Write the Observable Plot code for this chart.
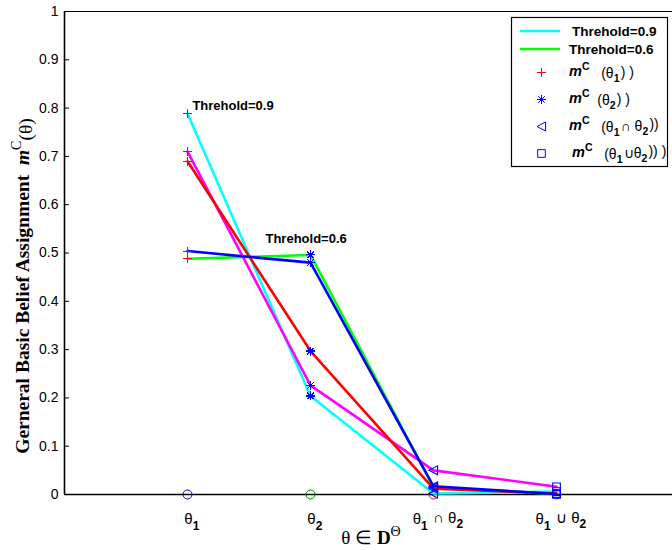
<!DOCTYPE html>
<html><head><meta charset="utf-8">
<script src="https://cdn.jsdelivr.net/npm/d3@7"></script>
<script src="https://cdn.jsdelivr.net/npm/@observablehq/plot@0.6"></script>
<style>
body{margin:0;background:#fff;}
#wrap{position:relative;width:672px;height:550px;overflow:hidden;}
</style></head><body><div id="wrap"></div>
<script>
// ---- data ----
const categories = ["θ_1", "θ_2", "θ_1 ∩ θ_2", "θ_1 ∪ θ_2"];
const catPos = [1, 2, 3, 4];
const seriesNames = ["Threhold=0.9", "Threhold=0.6", "series3", "series4", "series5"];
const cyanValues    = [0.789, 0.204, 0.002, 0.006];
const greenValues   = [0.488, 0.496, 0.015, 0.001];
const magentaValues = [0.710, 0.226, 0.050, 0.016];
const redValues     = [0.690, 0.297, 0.012, 0.002];
const blueValues    = [0.504, 0.480, 0.017, 0.001];
const seriesColors = ["#00ffff", "#00ff00", "#ff00ff", "#ff0000", "#0000ff"];
const markerColors = ["#ff0000", "#0000ff", "#0000ff", "#0000ff"];
const zeroMarkerColors = ["#0000ff", "#008000", "#ff0000", "#00bfbf"];
const yTicks = [0, 0.1, 0.2, 0.3, 0.4, 0.5, 0.6, 0.7, 0.8, 0.9, 1];
const yTickLabels = ["0", "0.1", "0.2", "0.3", "0.4", "0.5", "0.6", "0.7", "0.8", "0.9", "1"];
const annotX = [1.04, 1.634];
const annotY = [0.805, 0.53];
const annotText = ["Threhold=0.9", "Threhold=0.6"];
const legendLabels = ["Threhold=0.9", "Threhold=0.6", "m^C  (θ_1) )", "m^C (θ_2) )", "m^C  (θ_1∩ θ_2))", "m^C  (θ_1∪θ_2)) )"];

// ---- build ----
const triangleLeft = {draw(ctx, size) {
  const r = Math.sqrt(size / Math.PI);
  ctx.moveTo(-r, 0); ctx.lineTo(r * 0.9, -r); ctx.lineTo(r * 0.9, r); ctx.closePath();
}};
const plusSym = {draw(ctx, size) {
  const r = Math.sqrt(size / Math.PI);
  ctx.moveTo(-r, 0); ctx.lineTo(r, 0); ctx.moveTo(0, -r); ctx.lineTo(0, r);
}};
const starSym = {draw(ctx, size) {
  const r = Math.sqrt(size / Math.PI);
  ctx.moveTo(-r, 0); ctx.lineTo(r, 0); ctx.moveTo(0, -r); ctx.lineTo(0, r);
  const k = r * 0.72;
  ctx.moveTo(-k, -k); ctx.lineTo(k, k); ctx.moveTo(-k, k); ctx.lineTo(k, -k);
}};
const squareSym = {draw(ctx, size) {
  const r = Math.sqrt(size / Math.PI) * 0.85;
  ctx.rect(-r, -r, 2 * r, 2 * r);
}};
const markerSymbols = [plusSym, starSym, triangleLeft, squareSym];
const seriesValues = [cyanValues, greenValues, magentaValues, redValues, blueValues];
const rows = [];
seriesNames.forEach((name, si) => seriesValues[si].forEach((v, i) => rows.push({series: name, x: catPos[i], y: v, cat: i})));
const drawOrder = [0, 1, 2, 3, 4];

const marks = [
  Plot.ruleY([0], {stroke: "black", strokeWidth: 1.6}),
  Plot.ruleY([1], {stroke: "black", strokeWidth: 1.2}),
  Plot.ruleX([0], {stroke: "black", strokeWidth: 1.6}),
  Plot.axisY({ticks: yTicks, tickSize: 5, dx: 5, text: null, label: null}),
  Plot.axisY({ticks: yTicks, tickSize: 0, tickFormat: (d, i) => yTickLabels[i], tickPadding: 6, fontSize: 14, label: null}),
  Plot.axisX({ticks: catPos, tickSize: 0, tickPadding: 19, dx: 5, tickFormat: d => categories[d - 1], fontSize: 15, label: null}),
  Plot.dot(catPos, {x: d => d, y: 0, r: 4.5, stroke: (d, i) => zeroMarkerColors[i], strokeWidth: 1}),
  ...drawOrder.map(si => Plot.line(rows.filter(r => r.series === seriesNames[si]), {x: "x", y: "y", stroke: seriesColors[si], strokeWidth: 2.6})),
  ...catPos.map((c, ci) => Plot.dot(rows.filter(r => r.cat === ci), {x: "x", y: "y", symbol: markerSymbols[ci], r: 4.5, stroke: markerColors[ci], fill: "none", strokeWidth: 1.1, shapeRendering: ci < 2 ? "crispEdges" : "auto"})),
  Plot.text(annotText, {x: (d, i) => annotX[i], y: (d, i) => annotY[i], text: d => d, textAnchor: "start", fontWeight: "bold", fontSize: 13, fill: "black"})
];

const plot = Plot.plot({
  width: 672, height: 550,
  marginLeft: 64, marginRight: 0, marginTop: 11, marginBottom: 56,
  x: {domain: [0, 4.943], axis: null},
  y: {domain: [0, 1], axis: null},
  color: {type: "identity"},
  style: {fontFamily: "'Liberation Sans', Arial, sans-serif", fontSize: "14px", background: "white", overflow: "visible"},
  marks
});
document.getElementById("wrap").appendChild(plot);
const svg = d3.select(plot);

// subscripts in x tick labels
svg.selectAll("g[aria-label='x-axis tick label'] text").each(function() {
  const t = d3.select(this);
  const str = t.text();
  t.text(null);
  str.split(/(_\w)/).forEach(p => {
    if (!p) return;
    if (p.startsWith("_")) {
      t.append("tspan").attr("dy", "0.45em").attr("font-weight", "bold").attr("font-size", "0.8em").text(p.slice(1));
      t.append("tspan").attr("dy", "-0.45em").text("\u200a");
    } else t.append("tspan").text(p);
  });
});

// y-axis label
const yl = svg.append("text")
  .attr("transform", "translate(29,286) rotate(-90)")
  .attr("text-anchor", "middle")
  .attr("font-family", "'Liberation Serif', 'Times New Roman', serif")
  .attr("font-weight", "bold").attr("font-size", 19.5).attr("fill", "black");
yl.append("tspan").text("Gerneral Basic Belief Assignment  ");
yl.append("tspan").attr("font-style", "italic").text("m");
yl.append("tspan").attr("dy", "-0.6em").attr("font-size", 14).attr("font-weight", "normal").text("C");
yl.append("tspan").attr("dy", "0.6em").attr("font-weight", "normal").text("(θ)");

// x-axis label
const xl = svg.append("text")
  .attr("x", 371).attr("y", 544)
  .attr("text-anchor", "middle")
  .attr("font-family", "'Liberation Serif', 'Times New Roman', serif")
  .attr("font-size", 19).attr("fill", "black");
xl.append("tspan").text("θ ∈ ");
xl.append("tspan").attr("font-weight", "bold").text("D");
xl.append("tspan").attr("dy", "-0.6em").attr("font-size", 14).text("Θ");

// legend
const lg = svg.append("g").attr("font-family", "'Liberation Sans', Arial, sans-serif").attr("fill", "black").attr("text-anchor", "start");
lg.append("rect").attr("x", 511.5).attr("y", 17.5).attr("width", 156).attr("height", 149)
  .attr("fill", "white").attr("stroke", "black").attr("stroke-width", 1.2);
const legendY = [31, 49, 72, 99, 126, 153];
const legendSymbols = [null, null, plusSym, starSym, triangleLeft, squareSym];
legendLabels.forEach((lab, i) => {
  const y = legendY[i];
  if (i < 2) {
    lg.append("line").attr("x1", 520).attr("x2", 560).attr("y1", y).attr("y2", y)
      .attr("stroke", seriesColors[i]).attr("stroke-width", 2.6);
    lg.append("text").attr("x", i === 0 ? 572 : 569).attr("y", y + 5).attr("font-weight", "bold").attr("font-size", 13.5).text(lab);
  } else {
    lg.append("path").attr("transform", `translate(541.5,${y + 0.5})`).attr("d", d3.symbol(legendSymbols[i], 64)())
      .attr("fill", "none").attr("stroke", markerColors[i - 2]).attr("stroke-width", 1);
    const t = lg.append("text").attr("x", i === 5 ? 572 : 569).attr("y", y + 4).attr("font-size", 14);
    const m = lab.match(/^m\^C(\s*)(.*)$/);
    t.append("tspan").attr("font-weight", "bold").attr("font-style", "italic").attr("font-size", 14.5).text("m");
    t.append("tspan").attr("dy", "-0.55em").attr("font-weight", "bold").attr("font-size", 10.5).text("C");
    t.append("tspan").attr("dy", "0.55em").attr("xml:space", "preserve").text(m[1] + " ");
    m[2].split(/(_\w)/).forEach(p => {
      if (!p) return;
      if (p.startsWith("_")) {
        t.append("tspan").attr("dy", "0.4em").attr("font-weight", "bold").attr("font-size", 10.5).text(p.slice(1));
        t.append("tspan").attr("dy", "-0.4em").text("\u200a");
      } else t.append("tspan").text(p);
    });
  }
});
</script>
</body></html>
